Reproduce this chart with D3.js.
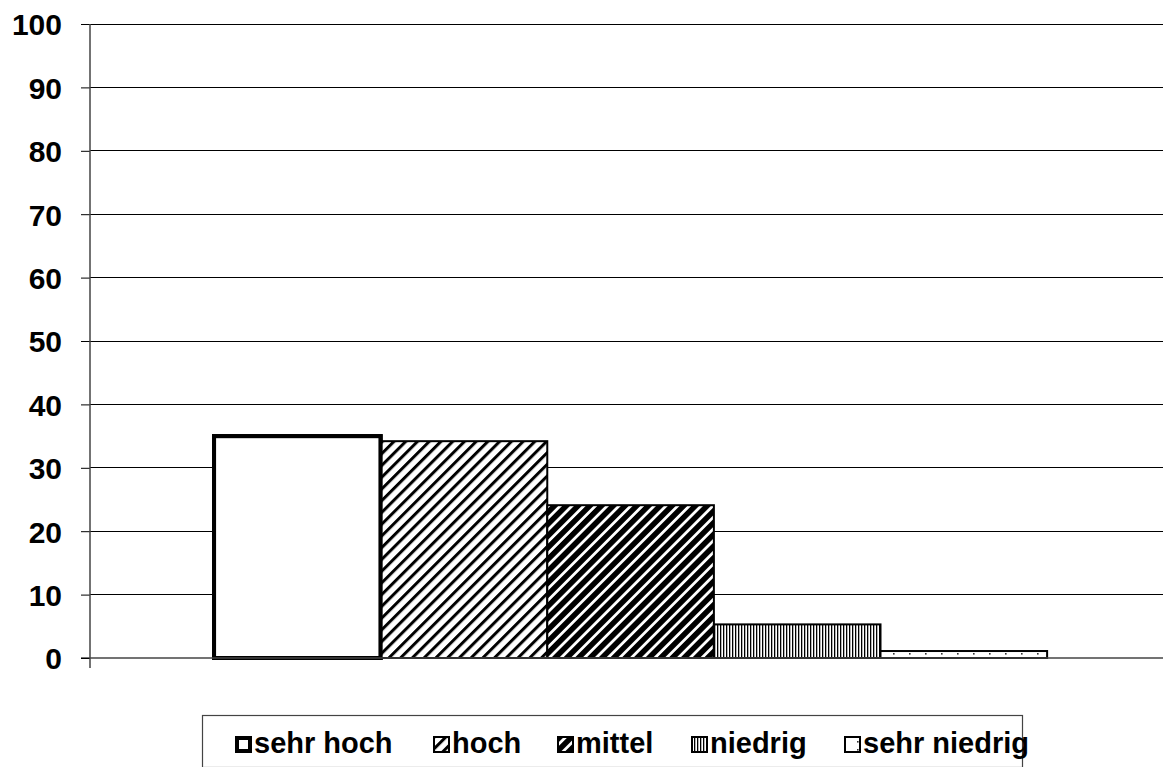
<!DOCTYPE html>
<html>
<head>
<meta charset="utf-8">
<script src="https://cdn.jsdelivr.net/npm/d3@7"></script>
<style>
  html, body { margin: 0; padding: 0; background: #fff; }
  svg { display: block; font-family: Arial, "Liberation Sans", sans-serif; }
</style>
</head>
<body>
<svg id="chart" width="1166" height="767"></svg>
<script>
// Share of responses per level (percent)
const levels = ["sehr hoch", "hoch", "mittel", "niedrig", "sehr niedrig"];
const values = [35.0, 34.2, 24.1, 5.3, 1.1];
const yTicks = [0, 10, 20, 30, 40, 50, 60, 70, 80, 90, 100];
const fills = ["plain", "diagLight", "diagDark", "vertical", "dots"];

const svg = d3.select("#chart");
const margin = { left: 90, right: 3, top: 24, bottom: 109 };
const W = 1166, H = 767;
const FONT = "Arial, 'Liberation Sans', sans-serif";

const y = d3.scaleLinear().domain([0, 100]).range([H - margin.bottom, margin.top]);
const x = d3.scaleBand().domain(levels)
  .range([margin.left, W - margin.right])
  .paddingInner(0).paddingOuter(0.72).align(0.517);

// Fill patterns
const defs = svg.append("defs");
function diag(id, stroke) {
  const p = defs.append("pattern").attr("id", id)
    .attr("patternUnits", "userSpaceOnUse").attr("width", 8.3).attr("height", 8.3)
    .attr("patternTransform", "rotate(45)");
  p.append("rect").attr("width", 8.3).attr("height", 8.3).attr("fill", "#fff");
  p.append("rect").attr("x", 0).attr("y", 0).attr("width", stroke).attr("height", 8.3).attr("fill", "#000");
}
diag("diagLight", 3);
diag("diagDark", 5.5);
const pv = defs.append("pattern").attr("id", "vertical")
  .attr("patternUnits", "userSpaceOnUse").attr("width", 3).attr("height", 3);
pv.append("rect").attr("width", 3).attr("height", 3).attr("fill", "#fff");
pv.append("rect").attr("width", 1.3).attr("height", 3).attr("fill", "#000");
const pd = defs.append("pattern").attr("id", "dots")
  .attr("patternUnits", "userSpaceOnUse").attr("width", 16).attr("height", 8)
  .attr("x", 886).attr("y", 650);
pd.append("rect").attr("width", 16).attr("height", 8).attr("fill", "#fff");
pd.append("rect").attr("x", 7).attr("y", 3).attr("width", 1.6).attr("height", 1.6).attr("fill", "#333");

function fillOf(i) { return fills[i] === "plain" ? "#fff" : `url(#${fills[i]})`; }

// Gridlines
svg.append("g").selectAll("line").data(yTicks.filter(d => d > 0)).join("line")
  .attr("x1", margin.left).attr("x2", W - margin.right)
  .attr("y1", d => y(d)).attr("y2", d => y(d))
  .attr("stroke", "#000").attr("stroke-width", 1).attr("shape-rendering", "crispEdges");

// Bars
svg.append("g").selectAll("rect").data(levels).join("rect")
  .attr("x", d => x(d))
  .attr("y", (d, i) => y(values[i]))
  .attr("width", x.bandwidth())
  .attr("height", (d, i) => y(0) - y(values[i]))
  .attr("fill", (d, i) => fillOf(i))
  .attr("stroke", "#000")
  .attr("stroke-width", (d, i) => i === 0 ? 4 : 2);

// First bar outline drawn on top of its neighbour
svg.append("rect")
  .attr("x", x(levels[0])).attr("y", y(values[0]))
  .attr("width", x.bandwidth()).attr("height", y(0) - y(values[0]))
  .attr("fill", "none").attr("stroke", "#000").attr("stroke-width", 4);

// Baseline
svg.append("line")
  .attr("x1", margin.left - 9).attr("x2", W - margin.right)
  .attr("y1", y(0)).attr("y2", y(0))
  .attr("stroke", "#444").attr("stroke-width", 1.5);

// Y axis
const yAxis = d3.axisLeft(y).tickValues(yTicks).tickSize(9).tickPadding(19);
const gy = svg.append("g").attr("transform", `translate(${margin.left},0)`).call(yAxis);
gy.select(".domain").remove();
gy.append("line").attr("x1", 0).attr("x2", 0).attr("y1", y(100)).attr("y2", y(0) + 10)
  .attr("stroke", "#444").attr("stroke-width", 1.5);
gy.selectAll(".tick line").attr("stroke", "#000");
gy.selectAll(".tick text")
  .attr("fill", "#000").attr("font-size", 30).attr("font-weight", "bold")
  .attr("font-family", FONT).attr("dy", "0.36em");

// Legend
const legend = svg.append("g");
legend.append("rect").attr("x", 202.5).attr("y", 715.5).attr("width", 820).attr("height", 52)
  .attr("fill", "#fff").attr("stroke", "#444").attr("stroke-width", 1.2);
const legendX = [235, 433, 557, 691, 844];
levels.forEach((lv, i) => {
  const g = legend.append("g").attr("transform", `translate(${legendX[i]},736)`);
  const thick = i === 0 ? 4 : 2;
  g.append("rect").attr("x", thick / 2).attr("y", thick / 2)
    .attr("width", 17 - thick).attr("height", 17 - thick)
    .attr("fill", fillOf(i)).attr("stroke", "#000").attr("stroke-width", thick);
  g.append("text").attr("x", 19).attr("y", 17)
    .attr("font-size", 29).attr("font-weight", "bold").attr("fill", "#000")
    .attr("font-family", FONT)
    .text(lv);
});
</script>
</body>
</html>
